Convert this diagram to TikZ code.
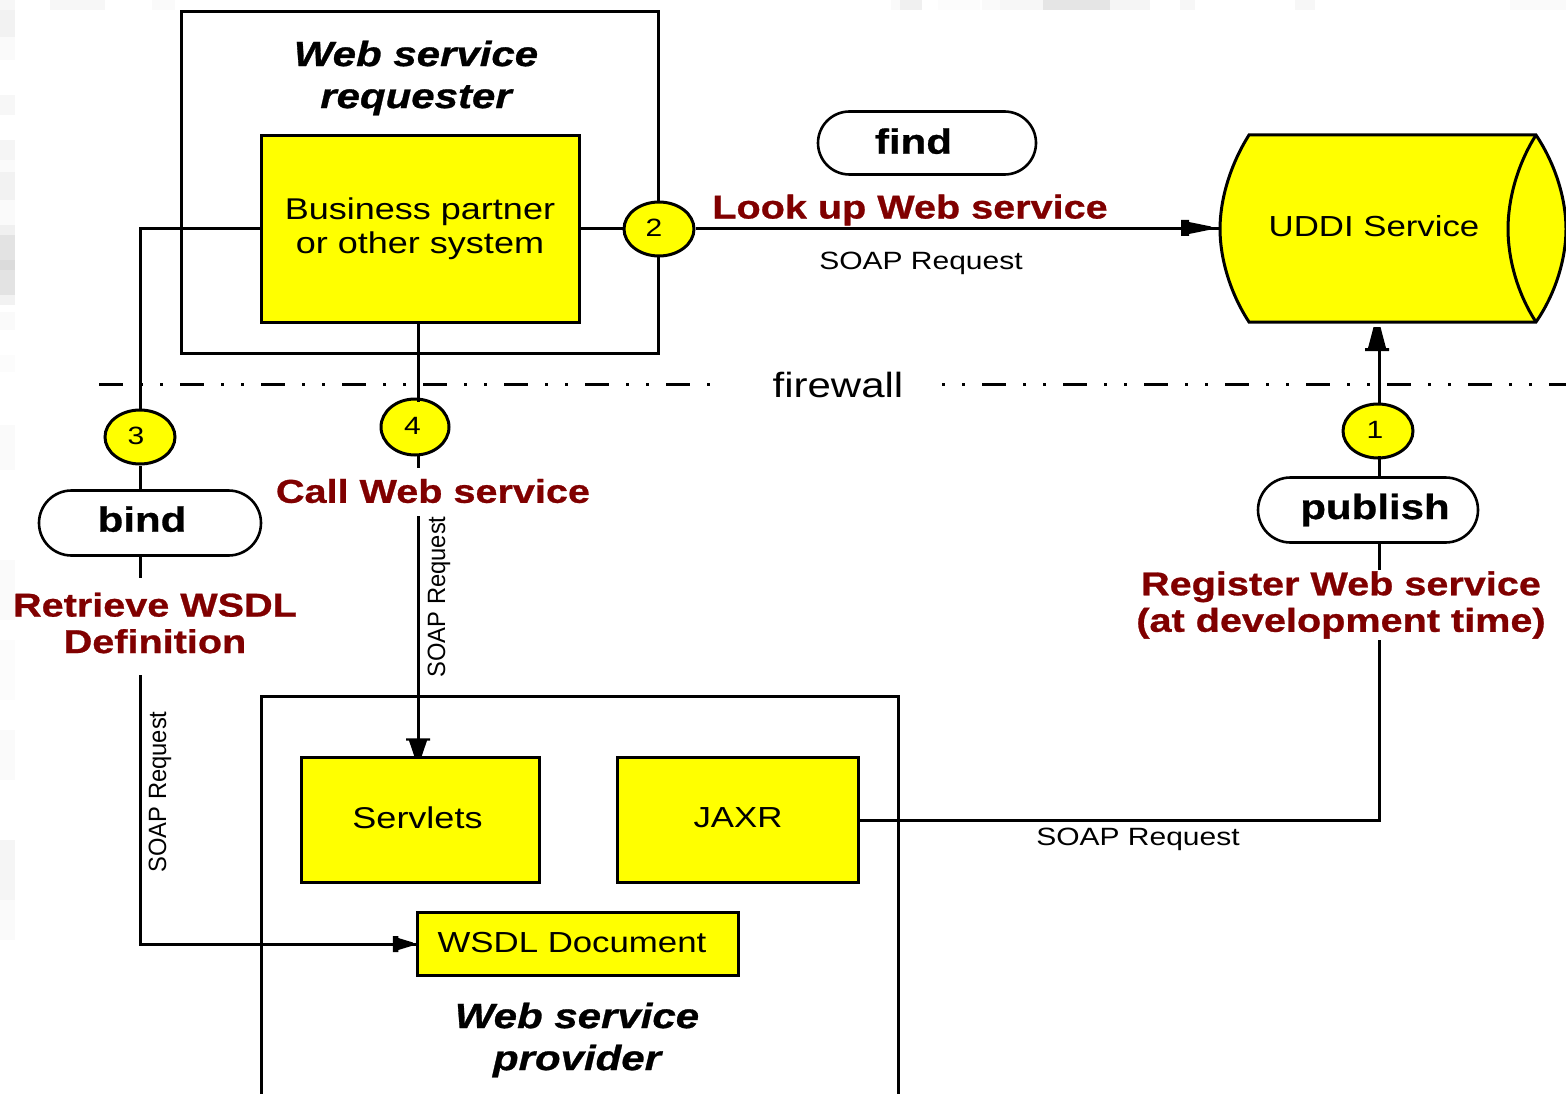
\documentclass[tikz,border=0pt]{standalone}
\usepackage{fontspec}
\setmainfont[FakeStretch=1.2,BoldFeatures={FakeBold=0.8},BoldItalicFeatures={FakeBold=0.8}]{Liberation Sans}
\newfontfamily\narrowfont[FakeStretch=0.95]{Liberation Sans}
\usetikzlibrary{shapes.misc,shapes.geometric}
\definecolor{yel}{RGB}{255,255,0}
\definecolor{dred}{RGB}{128,0,0}
\tikzset{
 x=1pt,y=-1pt,
 line/.style={draw=black,line width=3pt},
 ybox/.style={draw=black,line width=3pt,fill=yel,inner sep=0pt,align=center,font=\fontsize{30}{34}\selectfont},
 frame/.style={draw=black,line width=3pt},
 circ/.style={draw=black,line width=3pt,fill=yel,ellipse,minimum width=70pt,minimum height=54pt,inner sep=0pt,font=\fontsize{25}{30}\selectfont},
 verb/.style={draw=black,line width=2.6pt,fill=white,rounded rectangle,inner sep=0pt,font=\bfseries\fontsize{35}{38}\selectfont},
 redl/.style={text=dred,font=\bfseries\fontsize{33}{36.5}\selectfont,align=center,inner sep=1pt},
 role/.style={font=\bfseries\itshape\fontsize{35}{42}\selectfont,align=center,inner sep=0pt},
 soap/.style={font=\fontsize{25}{28}\selectfont,inner sep=0pt},
 soapv/.style={font=\narrowfont\fontsize{25}{28}\selectfont,inner sep=0pt,rotate=90},
 pics/aheadh/.style={code={\fill[black] (-30,-8) -- (-22,-8) -- (-22,-6) -- (0,-1.5) -- (0,1.5) -- (-22,6) -- (-22,8) -- (-30,8) -- cycle;}},
 pics/aheadv/.style={code={\fill[black] (-24,-12) -- (-21,-12) -- (-21,-9) -- (-6,-5) -- (0,-3.5) -- (0,3.5) -- (-6,5) -- (-21,9) -- (-21,12) -- (-24,12) -- cycle;}},
}
\begin{document}
\begin{tikzpicture}
\useasboundingbox (0,0) rectangle (1566,1094);
\fill[white] (0,0) rectangle (1566,1094);
% scanned background speckle along the left and top edges
\foreach \ya/\yb/\g in {0/10/3,10/37/5,37/60/2,95/115/3,140/160/4,160/172/2,172/200/5,200/225/2,225/235/6,235/260/11,260/270/14,270/295/11,295/305/5,312/330/2,355/372/1,425/470/2,560/620/2,640/700/1,730/780/2,840/900/4,900/940/2}
  \fill[black!\g] (0,\ya) rectangle (15,\yb);
\foreach \xa/\xb/\g in {50/105/3,152/175/2,891/900/2,900/922/6,938/980/1,982/1000/2,1000/1043/3,1043/1110/10,1110/1150/4,1180/1195/3,1295/1315/3,1510/1566/2}
  \fill[black!\g] (\xa,0) rectangle (\xb,10);
% frames
\coordinate (rqA) at (181,12);
\coordinate (rqB) at (658,353);
\draw[frame] (rqA) rectangle (rqB);
\coordinate (prA) at (261,1094);
\coordinate (prB) at (261,696);
\coordinate (prC) at (898,696);
\coordinate (prD) at (898,1094);
\draw[frame] (prA) -- (prB) -- (prC) -- (prD);
\node[role] (rqT) at (416,78) {Web service\\requester};
\node[role] (prT) at (577,1040) {Web service\\provider};
% firewall
\coordinate (fwA) at (99,384);
\coordinate (fwB) at (725,384);
\coordinate (fwC) at (942,384);
\coordinate (fwD) at (1566,384);
\draw[line width=3pt,dash pattern=on 24pt off 17pt on 3pt off 17pt on 3pt off 17pt] (fwA) -- (fwB);
\draw[line width=3pt,dash pattern=on 3pt off 17pt on 3pt off 17pt on 24pt off 17pt] (fwC) -- (fwD);
\node[font=\fontsize{35}{36}\selectfont,inner sep=0pt] (fw) at (838,385) {firewall};
% boxes
\node[ybox,minimum width=318pt,minimum height=187pt] (bp) at (420,229) {Business partner\\or other system};
\node[ybox,minimum width=238pt,minimum height=125pt] (sv) at (420,820) {\hspace*{-5pt}\raisebox{5pt}{Servlets}};
\node[ybox,minimum width=241pt,minimum height=125pt,font=\fontsize{29}{34}\selectfont] (jx) at (738,820) {\raisebox{4pt}{JAXR}};
\node[ybox,minimum width=321pt,minimum height=63pt,font=\fontsize{29}{34}\selectfont] (ws) at (578,944) {\hspace*{-12pt}\raisebox{3pt}{WSDL Document}};
% UDDI cylinder
\draw[line width=3pt,fill=yel] (1249,135) -- (1536,135) .. controls (1556,165) and (1566,200) .. (1566,229) .. controls (1566,258) and (1556,293) .. (1536,322) -- (1249,322) .. controls (1230,293) and (1220,258) .. (1220,229) .. controls (1220,200) and (1230,165) .. (1249,135) -- cycle;
\draw[line width=3pt] (1536,135) .. controls (1517,165) and (1508,200) .. (1508,229) .. controls (1508,258) and (1517,293) .. (1536,322);
\node[font=\fontsize{29}{34}\selectfont,inner sep=0pt] (ud) at (1374,226) {UDDI Service};
% circled numbers
\coordinate (udW) at (1219,229);
\node[circ] (n2) at (659,229) {\hspace*{-10pt}\raisebox{3pt}{2}};
\node[circ] (n3) at (140,437) {\hspace*{-8pt}\raisebox{3pt}{3}};
\node[circ,minimum height=56pt,minimum width=68pt] (n4) at (415,427) {\hspace*{-5pt}\raisebox{3pt}{4}};
\node[circ] (n1) at (1378,431) {\hspace*{-6pt}\raisebox{3pt}{1}};
% verbs
\node[verb,minimum width=218pt,minimum height=63pt] (vf) at (927,143) {\hspace*{-27pt}\raisebox{4pt}{find}};
\node[verb,minimum width=222pt,minimum height=65pt] (vb) at (150,523) {\hspace*{-16pt}\raisebox{8pt}{bind}};
\node[verb,minimum width=220pt,minimum height=65pt] (vp) at (1368,510) {\hspace*{14pt}\raisebox{-3pt}{publish}};
% connectors
\coordinate (c3a) at (140,229);
\coordinate (c3b) at (140,944);
\coordinate (c3c) at (140,675);
\coordinate (c3d) at (140,555);
\coordinate (c3e) at (140,578);
\coordinate (c4a) at (418,322);
\coordinate (c4b) at (418,402);
\coordinate (c4c) at (418,454);
\coordinate (c4d) at (418,468);
\coordinate (c4e) at (418,516);
\coordinate (c4f) at (418,757);
\coordinate (c1a) at (1379,350);
\coordinate (c1b) at (1379,405);
\coordinate (c1c) at (1379,456);
\coordinate (c1d) at (1379,478);
\coordinate (c1e) at (1379,543);
\coordinate (c1f) at (1379,570);
\coordinate (c1g) at (1379,640);
\coordinate (c1h) at (1379,820);
\draw[line] (bp.west) -- (c3a) -- (n3.north);
\draw[line] (n3.south) -- (n3.south |- vb.north);
\draw[line] (c3d) -- (c3e);
\draw[line] (c3c) -- (c3b) -- (ws.west);
\draw[line] (bp.east) -- (n2.west);
\draw[line] (n2.east) -- (udW);
\draw[line] (c4a) -- (c4b);
\draw[line] (c4c) -- (c4d);
\draw[line] (c4e) -- (c4f);
\draw[line] (c1a) -- (c1b);
\draw[line] (c1c) -- (c1d);
\draw[line] (c1e) -- (c1f);
\draw[line] (jx.east) -- (c1h) -- (c1g);
% arrowheads
\path (1211,228) pic {aheadh};
\path (413,944) pic[xscale=.67] {aheadh};
\path (1377,327) pic[rotate=90] {aheadv};
\path (418,757) pic[rotate=-90,xscale=.78] {aheadv};
% red labels
\node[redl] (l1) at (910,210) {Look up Web service};
\node[redl] (l2) at (433,491) {Call Web service};
\node[redl] (l3) at (155,623) {Retrieve WSDL\\Definition};
\node[redl] (l4) at (1341,605) {Register Web service\\(at development time)};
% soap
\node[soap] (s1) at (921,263) {SOAP Request};
\node[soap] (s2) at (1138,839) {SOAP Request};
\node[soapv] (s3) at (439,597) {SOAP Request};
\node[soapv] (s4) at (160,792) {SOAP Request};
\end{tikzpicture}
\end{document}
